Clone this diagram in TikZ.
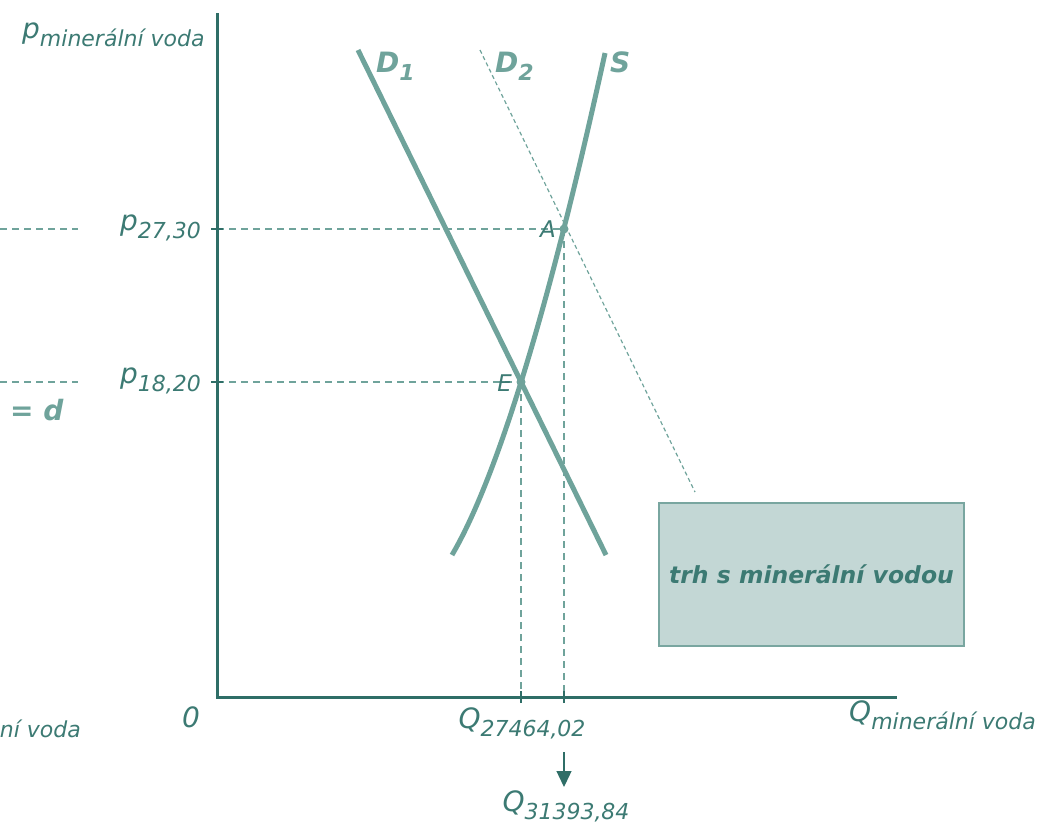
\documentclass[tikz,border=0pt]{standalone}
\usepackage{fontspec}
\setmainfont{DejaVu Sans}
\usetikzlibrary{arrows.meta}
\definecolor{axc}{HTML}{2F6E67}
\definecolor{cvc}{HTML}{6FA39B}
\definecolor{txc}{HTML}{3C7A73}
\definecolor{boxf}{HTML}{C3D7D5}
\definecolor{boxd}{HTML}{79A6A0}
\newcommand\lowsub[1]{\raisebox{-8pt}{\fontsize{22}{22}\selectfont #1}}
\begin{document}
\begin{tikzpicture}[x=1pt,y=-1pt,
  axisline/.style={axc, line width=3pt},
  tickline/.style={axc, line width=2pt},
  curveline/.style={cvc, line width=5pt},
  guide/.style={cvc, line width=1.4pt, dash pattern=on 7pt off 5pt},
  shiftline/.style={cvc, line width=1.2pt, dash pattern=on 4pt off 3pt},
  lbl/.style={inner sep=0pt, text=txc, font=\fontsize{28}{28}\selectfont\itshape},
  dlbl/.style={inner sep=0pt, text=cvc, font=\fontsize{28}{28}\selectfont\bfseries\itshape},
  ptlbl/.style={inner sep=0pt, text=txc, font=\fontsize{23}{23}\selectfont\itshape},
  boxnode/.style={draw=boxd, fill=boxf, line width=2.5pt, minimum width=305pt, minimum height=143pt, inner sep=0pt, text=txc, font=\fontsize{23.5}{23.5}\selectfont\bfseries\itshape}
]
\clip (0,0) rectangle (1038,825);
% coordinates
\coordinate (O) at (217,697);
\coordinate (Ytop) at (217,13);
\coordinate (Xend) at (897,697);
\coordinate (A) at (564,229);
\coordinate (E) at (521,382);
\coordinate (PA) at (217,229);
\coordinate (PE) at (217,382);
\coordinate (QE) at (521,697);
\coordinate (QA) at (564,697);
\coordinate (LA1) at (0,229);
\coordinate (LA2) at (78,229);
\coordinate (LE1) at (0,382);
\coordinate (LE2) at (78,382);
\coordinate (D1a) at (358,50);
\coordinate (D1b) at (606,555);
\coordinate (D2a) at (480,50);
\coordinate (D2b) at (695,492);
\coordinate (arrS) at (564,752);
\coordinate (arrE) at (564,787);

% box
\node[boxnode] (box) at (811.5,574.5) {trh s minerální vodou};

% guides
\draw[guide] (LA1) -- (LA2);
\draw[guide] (LE1) -- (LE2);
\draw[guide] (PA) -- (A);
\draw[guide] (PE) -- (E);
\draw[guide] (E) -- (QE);
\draw[guide] (A) -- (QA);

% axes
\draw[axisline] (Ytop) -- (O) -- (Xend);
\draw[tickline] ([xshift=-6pt]PA) -- ([xshift=6pt]PA);
\draw[tickline] ([xshift=-6pt]PE) -- ([xshift=6pt]PE);
\draw[tickline] ([yshift=-6pt]QE) -- ([yshift=6pt]QE);
\draw[tickline] ([yshift=-6pt]QA) -- ([yshift=6pt]QA);

% curves
\draw[shiftline] (D2a) -- (D2b);
\draw[curveline] (D1a) -- (D1b);
\draw[curveline] plot[domain=0:502, samples=80, smooth] ({452+3.855*((\x+40)^0.62-9.85)}, {555-\x});
\fill[cvc] (A) circle (4.5pt);
\fill[cvc] (E) circle (4.5pt);

% arrow
\draw[axc, line width=1.3pt, -{Triangle[length=16pt,width=15pt]}] (arrS) -- (arrE);

% labels
\node[lbl, anchor=base west] (plab) at (22,38) {p\lowsub{minerální voda}};
\node[lbl, anchor=base east] (p27) at (201,230) {p\lowsub{27,30}};
\node[lbl, anchor=base east] (p18) at (201,383) {p\lowsub{18,20}};
\node[lbl, anchor=base] (zero) at (191,727) {0};
\node[lbl, anchor=base] (q27) at (522,728) {Q\lowsub{27464,02}};
\node[lbl, anchor=base] (q31) at (566,811) {Q\lowsub{31393,84}};
\node[lbl, anchor=base west] (qlab) at (849,721) {Q\lowsub{minerální voda}};
\node[lbl, anchor=base east] (leftq) at (81,729) {\lowsub{minerální voda}};
\node[dlbl, anchor=base west] (dlab) at (10,420) {= d};
\node[dlbl, anchor=base west] (d1) at (376,72) {D\lowsub{1}};
\node[dlbl, anchor=base west] (d2) at (495,72) {D\lowsub{2}};
\node[dlbl, anchor=base west] (slab) at (610,72) {S};
\node[ptlbl, anchor=base east] (alab) at (556,237) {A};
\node[ptlbl, anchor=base east] (elab) at (512,391) {E};
\end{tikzpicture}
\end{document}
